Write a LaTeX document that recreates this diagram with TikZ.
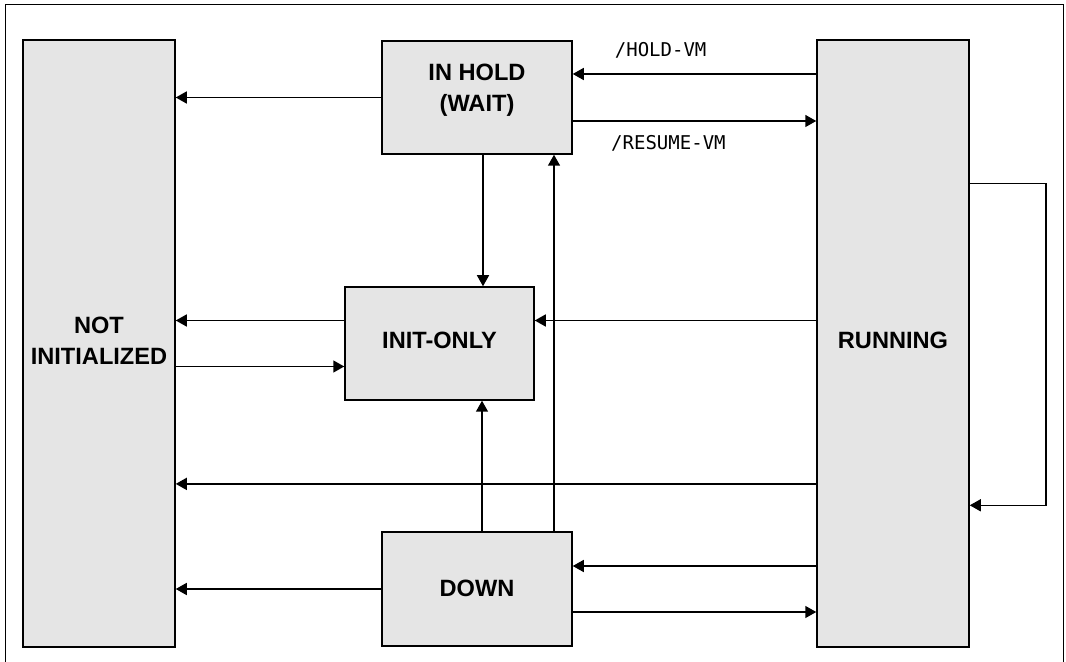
\documentclass[tikz,border=0pt]{standalone}
\usepackage{fontspec}
\setmainfont{Liberation Sans}
\newfontfamily\cmdfont{DejaVu Sans Mono}
\usepackage{tikz}
\usetikzlibrary{arrows.meta, positioning, calc}
\usepackage{xcolor}
\definecolor{stategray}{RGB}{229, 229, 229}
\tikzset{
    statebox/.style={draw, rectangle, fill=stategray, line width=0.75pt, inner sep=0pt, align=center,
        text depth=3pt, font=\fontsize{11.8}{15.5}\selectfont\bfseries},
    widebox/.style={statebox, minimum width=95pt, minimum height=56.5pt},
    tallbox/.style={statebox, minimum width=76pt, minimum height=303.5pt},
    trans/.style={-{Triangle[length=5.5pt, width=6pt]}, line width=0.75pt},
    cmdlabel/.style={font=\cmdfont\fontsize{9.5}{11}\selectfont, anchor=west, inner sep=0pt},
}

\begin{document}
\begin{tikzpicture}[x=0.5pt, y=-0.5pt]
                \useasboundingbox (0,0) rectangle (1066,662);
                % Frame
                \draw[line width=0.75pt] (5.5,662) -- (5.5,4.5) -- (1063.5,4.5) -- (1063.5,662);

                % States
                \node[tallbox] (notinit) at (99, 343.3) {NOT\\INITIALIZED};
                \node[tallbox] (running) at (893, 343.3) {RUNNING};
                \node[widebox, text depth=9.5pt] (hold) at (477, 97.5) {IN HOLD\\(WAIT)};
                \node[widebox, minimum width=94.5pt] (init) at (439.5, 343.5) {INIT-ONLY};
                \node[widebox, minimum height=57pt, text depth=1pt] (down) at (477, 589) {DOWN};

                % From IN HOLD
                \draw[trans] (hold.west) -- (hold.west -| notinit.east);
                \draw[trans] ([yshift=11.75pt]hold.east -| running.west) -- node[cmdlabel, pos=0.83, yshift=12pt] {/HOLD-VM} ([yshift=11.75pt]hold.east);
                \draw[trans] ([yshift=-11.75pt]hold.east) -- node[cmdlabel, pos=0.155, yshift=-11pt] {/RESUME-VM} ([yshift=-11.75pt]hold.east -| running.west);
                \draw[trans] ([xshift=3pt]hold.south) -- ([xshift=3pt]hold.south |- init.north);

                % INIT-ONLY
                \draw[trans] ([yshift=11.5pt]init.west) -- ([yshift=11.5pt]init.west -| notinit.east);
                \draw[trans] ([yshift=-11.5pt]init.west -| notinit.east) -- ([yshift=-11.5pt]init.west);
                \draw[trans] ([yshift=11.5pt]init.east -| running.west) -- ([yshift=11.5pt]init.east);

                % From RUNNING
                \draw[trans] ([yshift=-70.3pt]running.west) -- ([yshift=-70.3pt]running.west -| notinit.east);
                \draw[trans] ([yshift=80pt]running.east) -- ++(76,0) |- ([yshift=-81pt]running.east);

                % From DOWN
                \draw[trans] ([xshift=2.5pt]down.north) -- ([xshift=2.5pt]down.north |- init.south);
                \draw[trans] ([xshift=38.5pt]down.north) -- ([xshift=38.5pt]down.north |- hold.south);
                \draw[trans] (down.west) -- (down.west -| notinit.east);
                \draw[trans] ([yshift=11.5pt]down.east -| running.west) -- ([yshift=11.5pt]down.east);
                \draw[trans] ([yshift=-11.5pt]down.east) -- ([yshift=-11.5pt]down.east -| running.west);
            \end{tikzpicture}
\end{document}
